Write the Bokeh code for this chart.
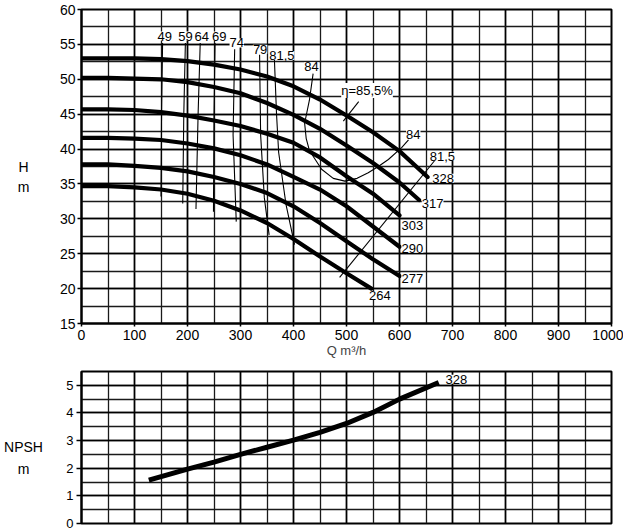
from bokeh.plotting import figure
from bokeh.models import Range1d, SingleIntervalTicker, Label
from bokeh.layouts import column, row
from bokeh.core.properties import value
from bokeh.embed import file_html
from bokeh.resources import INLINE

FONT = "Liberation Sans"

# ---- head curves (Q m3/h, H m) per impeller diameter ----
q_328 = [0, 50, 100, 150, 200, 250, 300, 350, 400, 450, 500, 550, 600, 653]
h_328 = [53.0, 53.0, 53.0, 52.9, 52.6, 52.1, 51.4, 50.4, 49.0, 47.1, 44.8, 42.4, 39.7, 36.0]
q_317 = [0, 50, 100, 150, 200, 250, 300, 350, 400, 450, 500, 550, 600, 637]
h_317 = [50.2, 50.2, 50.1, 50.0, 49.6, 48.9, 48.0, 46.6, 44.9, 42.9, 40.5, 38.0, 35.2, 32.7]
q_303 = [0, 50, 100, 150, 200, 250, 300, 350, 400, 450, 500, 550, 600]
h_303 = [45.7, 45.7, 45.6, 45.3, 44.8, 44.1, 43.3, 42.2, 40.9, 38.8, 36.1, 33.6, 30.5]
q_290 = [0, 50, 100, 150, 200, 250, 300, 350, 400, 450, 500, 550, 600]
h_290 = [41.6, 41.6, 41.5, 41.3, 40.8, 40.1, 39.1, 37.8, 36.0, 34.2, 31.8, 28.9, 26.0]
q_277 = [0, 50, 100, 150, 200, 250, 300, 350, 400, 450, 500, 550, 600]
h_277 = [37.8, 37.8, 37.6, 37.3, 36.8, 36.0, 35.0, 33.7, 31.8, 29.4, 26.8, 24.2, 21.8]
q_264 = [0, 50, 100, 150, 200, 250, 300, 350, 400, 450, 500, 547]
h_264 = [34.7, 34.7, 34.5, 34.2, 33.6, 32.6, 31.2, 29.4, 27.1, 24.6, 22.2, 20.0]

head_curves = [(q_328, h_328), (q_317, h_317), (q_303, h_303),
               (q_290, h_290), (q_277, h_277), (q_264, h_264)]

# ---- iso-efficiency lines ----
eff_49_q = [153, 151, 150]
eff_49_h = [55.2, 45.0, 33.2]
eff_59_q = [196, 193, 191]
eff_59_h = [55.2, 45.0, 32.2]
eff_64_q = [224, 220, 216]
eff_64_h = [55.2, 45.0, 31.4]
eff_69_q = [252, 250, 249]
eff_69_h = [55.2, 45.0, 31.0]
eff_74_q = [289, 286, 292]
eff_74_h = [54.3, 42.0, 29.6]
eff_79_q = [336, 338, 345, 354]
eff_79_h = [53.5, 42.0, 33.0, 27.7]
eff_815a_q = [364, 368, 372, 386, 402]
eff_815a_h = [52.8, 45.0, 39.5, 32.0, 26.3]
eff_84_q = [437, 430, 421, 424, 430, 453, 475, 497, 520, 541, 560, 579, 604, 617]
eff_84_h = [50.8, 47.0, 43.7, 41.5, 39.8, 37.1, 35.8, 35.4, 35.8, 36.6, 37.5, 38.5, 40.2, 41.3]
eff_815b_q = [668, 487]
eff_815b_h = [38.5, 21.6]
eta_lead_q = [523, 494]
eta_lead_h = [46.8, 44.0]

eff_lines = [(eff_49_q, eff_49_h), (eff_59_q, eff_59_h), (eff_64_q, eff_64_h),
             (eff_69_q, eff_69_h), (eff_74_q, eff_74_h), (eff_79_q, eff_79_h),
             (eff_815a_q, eff_815a_h), (eff_84_q, eff_84_h), (eff_815b_q, eff_815b_h),
             (eta_lead_q, eta_lead_h)]

# ---- annotations in the head chart ----
eff_labels = ["49", "59", "64", "69", "74", "79", "81,5", "84", "84", "81,5"]
eff_label_q = [157, 196, 227, 260, 293, 337, 378, 434, 626, 681]
eff_label_h = [56.2, 56.2, 56.2, 56.2, 55.2, 54.3, 53.4, 51.8, 42.1, 39.0]

dia_labels = ["328", "317", "303", "290", "277"]
dia_label_q = [662, 642, 604, 604, 604]
dia_label_h = [35.8, 32.2, 29.1, 25.8, 21.5]
dia_264_label = "264"
dia_264_q = 563
dia_264_h = 19.0

eta_label = "\u03b7=85,5%"
eta_q = 490
eta_h = 48.4

# ---- NPSH curve ----
npsh_q = [127, 200, 250, 300, 350, 400, 450, 500, 550, 600, 674]
npsh_v = [1.57, 1.97, 2.22, 2.50, 2.76, 3.02, 3.30, 3.62, 4.02, 4.50, 5.10]
npsh_label = "328"
npsh_label_q = 687
npsh_label_v = 5.22

# axis titles
h_title = ["H", "m"]
h_title_y = [37.4, 34.6]
npsh_title = ["NPSH", "m"]
npsh_title_y = [2.77, 1.99]

SIDE_W = 45
TOP_FH, TOP_BT, TOP_BB = 314, 9, 40
BOT_FH, BOT_BT, BOT_BB = 152, 8, 9


def style(p, y_interval, label_size):
    p.background_fill_color = "white"
    p.border_fill_color = "white"
    p.outline_line_color = "black"
    p.outline_line_width = 2
    for g in (p.xgrid, p.ygrid):
        g.grid_line_color = "black"
        g.grid_line_width = 1.6
        g.grid_line_alpha = 1.0
        g.minor_grid_line_color = "#1a1a1a"
        g.minor_grid_line_width = 1.3
    p.xaxis.ticker = SingleIntervalTicker(interval=100, num_minor_ticks=2)
    p.yaxis.ticker = SingleIntervalTicker(interval=y_interval, num_minor_ticks=2)
    for ax in (p.xaxis, p.yaxis):
        ax.axis_line_color = "black"
        ax.axis_line_width = 2
        ax.major_tick_line_color = "black"
        ax.major_tick_line_width = 1.5
        ax.major_tick_in = 0
        ax.minor_tick_line_color = None
        ax.major_label_text_font = FONT
        ax.major_label_text_font_size = label_size
        ax.major_label_text_color = "black"


def side(y0, y1, fh, bt, bb, texts, ys):
    s = figure(frame_width=SIDE_W, frame_height=fh, x_range=Range1d(0, SIDE_W),
               y_range=Range1d(y0, y1), min_border_left=0, min_border_right=0,
               min_border_top=bt, min_border_bottom=bb, output_backend="svg",
               toolbar_location=None)
    s.axis.visible = False
    s.grid.visible = False
    s.outline_line_color = None
    s.background_fill_color = "white"
    s.border_fill_color = "white"
    s.text(x=[23] * len(texts), y=ys, text=texts, text_align="center",
           text_baseline="middle", text_font=value(FONT), text_font_size="14px",
           text_color="black")
    return s


# ================= top chart =================
top = figure(frame_width=530, frame_height=TOP_FH, output_backend="svg",
             toolbar_location=None, x_range=Range1d(0, 1000), y_range=Range1d(15, 60),
             min_border_left=81 - SIDE_W, min_border_right=12,
             min_border_top=TOP_BT, min_border_bottom=TOP_BB)
style(top, 5, "14px")
top.yaxis.major_tick_out = 4
top.yaxis.major_label_standoff = 2
top.xaxis.major_tick_out = 3
top.xaxis.major_label_standoff = 2
top.xaxis.axis_label = "Q m\u00b3/h"
top.xaxis.axis_label_text_font = FONT
top.xaxis.axis_label_text_font_style = "normal"
top.xaxis.axis_label_text_font_size = "13px"
top.xaxis.axis_label_standoff = 0

for qs, hs in eff_lines:
    top.line(qs, hs, line_color="black", line_width=1.1)
for qs, hs in head_curves:
    top.line(qs, hs, line_color="black", line_width=4.2, line_cap="round")

for t, x, y in zip(eff_labels, eff_label_q, eff_label_h):
    top.add_layout(Label(x=x, y=y, text=t, text_align="center", text_baseline="middle",
                         text_font=FONT, text_font_size="13px", text_color="black",
                         background_fill_color="white"))
for t, x, y in zip(dia_labels, dia_label_q, dia_label_h):
    top.add_layout(Label(x=x, y=y, text=t, text_align="left", text_baseline="middle",
                         text_font=FONT, text_font_size="13px", text_color="black",
                         background_fill_color="white"))
top.add_layout(Label(x=dia_264_q, y=dia_264_h, text=dia_264_label, text_align="center",
                     text_baseline="middle", text_font=FONT, text_font_size="13px",
                     text_color="black", background_fill_color="white"))
top.add_layout(Label(x=eta_q, y=eta_h, text=eta_label, text_align="left",
                     text_baseline="middle", text_font=FONT, text_font_size="13px",
                     text_color="black", background_fill_color="white"))

top_side = side(15, 60, TOP_FH, TOP_BT, TOP_BB, h_title, h_title_y)

# ================= NPSH chart =================
bot = figure(frame_width=530, frame_height=BOT_FH, output_backend="svg",
             toolbar_location=None, x_range=Range1d(0, 1000), y_range=Range1d(0, 5.5),
             min_border_left=81 - SIDE_W, min_border_right=12,
             min_border_top=BOT_BT, min_border_bottom=BOT_BB)
style(bot, 1, "13px")
bot.yaxis.major_tick_out = 5
bot.yaxis.major_label_standoff = 3
bot.xaxis.visible = False

bot.line(npsh_q, npsh_v, line_color="black", line_width=5)
bot.add_layout(Label(x=npsh_label_q, y=npsh_label_v, text=npsh_label, text_align="left",
                     text_baseline="middle", text_font=FONT, text_font_size="13px",
                     text_color="black", background_fill_color="white"))

bot_side = side(0, 5.5, BOT_FH, BOT_BT, BOT_BB, npsh_title, npsh_title_y)

layout = column(row(top_side, top, spacing=0), row(bot_side, bot, spacing=0), spacing=0)
open("out.html", "w").write(file_html(layout, INLINE))
